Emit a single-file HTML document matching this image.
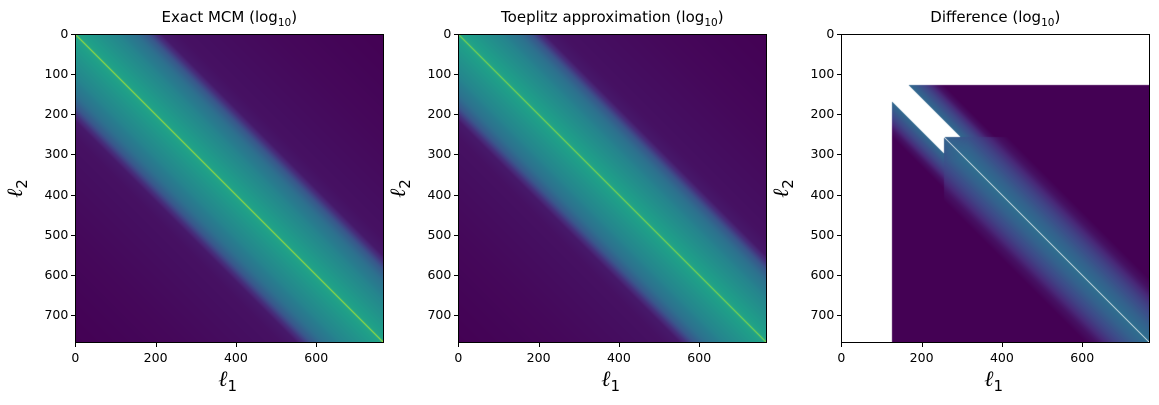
<!DOCTYPE html>
<html><head><meta charset="utf-8">
<style>
html,body{margin:0;padding:0;background:#fff;}
#root{position:relative;width:1159px;height:405px;overflow:hidden;font-family:"DejaVu Sans","Liberation Sans",sans-serif;color:#000;}
canvas{position:absolute;}
.frame{position:absolute;border:1px solid #000;box-sizing:border-box;}
.title{position:absolute;font-size:15px;text-align:center;white-space:nowrap;}
.tick{position:absolute;font-size:12.5px;white-space:nowrap;}
.tm{position:absolute;background:#000;}
.xl{position:absolute;font-size:22px;font-family:"DejaVu Serif","Liberation Serif",serif;font-style:italic;white-space:nowrap;line-height:24px;}
.xl span{font-style:normal;font-size:15px;font-family:"DejaVu Sans",sans-serif;position:relative;top:5px;}
sub{font-size:0.7em;}
</style></head>
<body>
<div id="root"></div>
<script>
// ---- data ----
const lmax = 767;
const xTicks = [0, 200, 400, 600];
const yTicks = [0, 100, 200, 300, 400, 500, 600, 700];
const titles = ["Exact MCM (log", "Toeplitz approximation (log", "Difference (log"];
const panelLeft = [75.3, 458.3, 841.3];
// band profile of the MCM: colormap value vs |l1-l2| offset
const mcmOffsets = [0, 1.0, 3, 50, 100, 150, 180, 200, 215, 260, 500, 767];
const mcmValues  = [0.9, 0.9, 0.58, 0.52, 0.46, 0.37, 0.27, 0.14, 0.07, 0.045, 0.02, 0.0];
// difference band profile
const diffOffsets = [0, 2, 40, 90, 130, 160, 767];
const diffValues  = [0.38, 0.36, 0.3, 0.18, 0.05, 0.0, 0.0];
const diffCut = 128, diffBlock = 256, diffGap = 42;

const top0 = 34, size = 308;
const sc = size / lmax;

const vir = [[68,1,84],[72,40,120],[62,74,137],[49,104,142],[38,130,142],[31,158,137],[53,183,121],[109,205,89],[180,222,44],[253,231,37]];
function cmap(t){t=Math.max(0,Math.min(1,t));const f=t*9,i=Math.min(8,Math.floor(f)),r=f-i;const a=vir[i],b=vir[i+1];return [a[0]+(b[0]-a[0])*r,a[1]+(b[1]-a[1])*r,a[2]+(b[2]-a[2])*r];}
function interp(xs,ys,x){if(x<=xs[0])return ys[0];for(let i=1;i<xs.length;i++){if(x<=xs[i]){const r=(x-xs[i-1])/(xs[i]-xs[i-1]);return ys[i-1]+(ys[i]-ys[i-1])*r;}}return ys[ys.length-1];}

const root = document.getElementById('root');
function add(tag, cls, name, css, html){const e=document.createElement(tag);if(cls)e.className=cls;


if(css)e.style.cssText=css;if(html!==undefined)e.innerHTML=html;root.appendChild(e);return e;}

function valueAt(p,l1,l2){
  const d=Math.abs(l1-l2);
  if(p<2){
    let v=interp(mcmOffsets,mcmValues,d);
    if(p===1 && d<1.0) v-=0.06;
    return v;
  }
  if(l1<diffCut||l2<diffCut) return null;
  if(d<1.0) return null;
  const mn=Math.min(l1,l2);
  if(mn<diffBlock && d<diffGap) return null;
  if(mn<diffBlock){return interp(diffOffsets,diffValues,(d-diffGap)*1.6+20);}
  // rounded start of main band near (256,256)
  const mx=Math.max(l1,l2);
  const lag=Math.max(0,(diffBlock+60)-mx);
  return interp(diffOffsets,diffValues,d+lag*0.6);
}

for(let p=0;p<3;p++){
  const L=panelLeft[p];
  const cv=add('canvas','', 'heatmap-'+(p+1), `left:${L}px;top:${top0}px;width:${size}px;height:${size}px;`);
  cv.width=size;cv.height=size;
  const ctx=cv.getContext('2d');const img=ctx.createImageData(size,size);
  for(let j=0;j<size;j++)for(let i=0;i<size;i++){
    const l1=(i+0.5)/sc,l2=(j+0.5)/sc;
    const v=valueAt(p,l1,l2);const k=(j*size+i)*4;
    if(v===null){img.data[k]=255;img.data[k+1]=255;img.data[k+2]=255;}
    else{const c=cmap(v);img.data[k]=c[0];img.data[k+1]=c[1];img.data[k+2]=c[2];}
    img.data[k+3]=255;
  }
  ctx.putImageData(img,0,0);
  add('div','frame','axes-frame-'+(p+1),`left:${L}px;top:${top0}px;width:${size+1}px;height:${size+1}px;`);
  add('div','title','title-'+(p+1),`left:${L}px;top:8px;width:${size}px;`, titles[p]+'<sub>10</sub>)');
  xTicks.forEach(t=>{const x=L+t*sc;
    add('div','tm','x-tick-mark',`left:${x}px;top:${top0+size+1}px;width:1px;height:4px;`);
    add('div','tick','x-tick-label',`left:${x-20}px;width:40px;text-align:center;top:${350}px;`, String(t));});
  yTicks.forEach(t=>{const y=top0+t*sc;
    add('div','tm','y-tick-mark',`left:${L-4}px;top:${y}px;width:4px;height:1px;`);
    add('div','tick','y-tick-label',`left:${L-52}px;width:45px;text-align:right;top:${y-8}px;`, String(t));});
  add('div','xl','x-axis-title-'+(p+1),`left:${L+size/2-11}px;top:${368}px;`, 'ℓ<span>1</span>');
  add('div','xl','y-axis-title-'+(p+1),`left:${L-68}px;top:${176}px;transform:rotate(-90deg);transform-origin:center;`, 'ℓ<span>2</span>');
}
</script>
</body></html>
